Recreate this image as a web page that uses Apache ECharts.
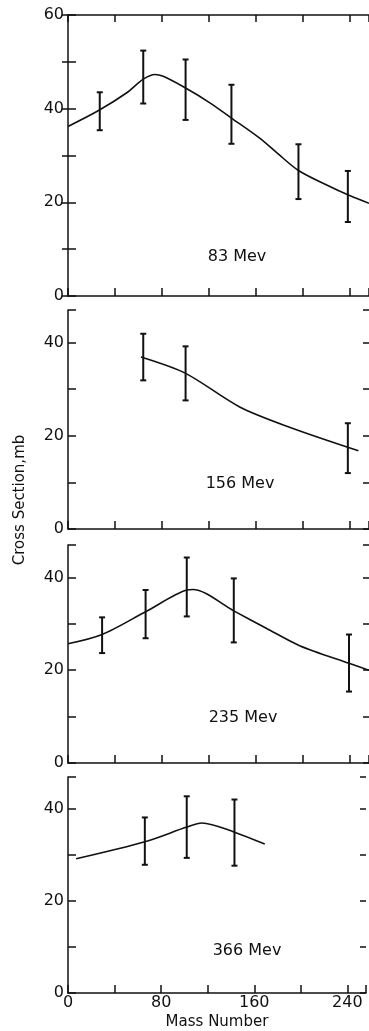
<!DOCTYPE html>
<html>
<head>
<meta charset="utf-8">
<script src="https://cdn.jsdelivr.net/npm/echarts@6/dist/echarts.min.js"></script>
<style>
  html, body { margin: 0; padding: 0; background: #fff; }
  #main { width: 369px; height: 1031px; }
</style>
</head>
<body>
<div id="main"></div>
<script>
// error bars: [mass number, low, high]
const bars83 = [[27, 35.4, 43.5], [64, 41.1, 52.4], [100, 37.6, 50.5], [139, 32.5, 45.1], [196, 20.7, 32.4], [238, 15.8, 26.7]];
const curve83 = [[0, 36.2], [26, 39.6], [50, 43.4], [64, 46.3], [74, 47.3], [81, 46.9], [100, 44.4], [121, 41.2], [139, 38.0], [163, 33.7], [178, 30.5], [196, 26.8], [220, 23.7], [239, 21.5], [256, 19.8]];

const bars156 = [[64, 31.9, 41.9], [100, 27.6, 39.2], [238, 12.0, 22.7]];
const curve156 = [[62, 36.9], [100, 33.4], [146, 26.2], [189, 21.8], [247, 16.8]];

const bars235 = [[29, 23.7, 31.4], [66, 26.9, 37.3], [101, 31.6, 44.3], [141, 26.0, 39.8], [239, 15.4, 27.7]];
const curve235 = [[0, 25.7], [29, 27.7], [66, 32.6], [101, 37.3], [106, 37.4], [141, 32.8], [169, 29.0], [197, 25.3], [239, 21.5], [256, 20.0]];

const bars366 = [[66, 27.9, 38.2], [102, 29.4, 42.8], [143, 27.7, 42.1]];
const curve366 = [[7, 29.2], [66, 32.9], [102, 36.1], [115, 37.0], [143, 35.0], [169, 32.4]];

const energies = ['83 Mev', '156 Mev', '235 Mev', '366 Mev'];
const yMaxes = [60, 47, 47, 47];
const xTickLabels = [0, 80, 160, 240];

const panels = [
  { bars: bars83, curve: curve83 },
  { bars: bars156, curve: curve156 },
  { bars: bars235, curve: curve235 },
  { bars: bars366, curve: curve366 }
];

const ink = '#111';
const font = 'DejaVu Sans';

const gridPos = [
  { top: 15, height: 281 },
  { top: 310, height: 219 },
  { top: 545, height: 218 },
  { top: 777, height: 220 }
];
const labelPos = [[237, 257], [240, 484], [243, 718], [247, 951]];

var myChart = echarts.init(document.getElementById('main'));

const grid = [], xAxis = [], yAxis = [], series = [], graphic = [];

panels.forEach((p, i) => {
  grid.push({ left: 68, right: 0, top: gridPos[i].top, height: gridPos[i].height });
  const last = i === panels.length - 1;
  xAxis.push({
    type: 'value', gridIndex: i, min: 0, max: 256, interval: 40,
    splitLine: { show: false },
    axisLine: { show: true, onZero: false, lineStyle: { color: ink, width: 1.5 } },
    axisTick: { show: true, inside: true, length: 8, lineStyle: { color: ink, width: 1.5 } },
    axisLabel: {
      show: last, margin: 2, color: ink, fontFamily: font, fontSize: 16,
      formatter: v => (xTickLabels.indexOf(v) >= 0 ? String(v) : '')
    },
    name: last ? 'Mass Number' : '', nameLocation: 'middle', nameGap: 22,
    nameTextStyle: { color: ink, fontFamily: font, fontSize: 15 }
  });
  yAxis.push({
    type: 'value', gridIndex: i, min: 0, max: yMaxes[i], interval: 10,
    splitLine: { show: false },
    axisLine: { show: true, lineStyle: { color: ink, width: 1.5 } },
    axisTick: { show: true, inside: true, length: 8, lineStyle: { color: ink, width: 1.5 } },
    axisLabel: {
      margin: 4, color: ink, fontFamily: font, fontSize: 16,
      formatter: v => (v % 20 === 0 ? String(v) : '')
    }
  });
  // right-hand ticks
  yAxis.push({
    type: 'value', gridIndex: i, position: 'right', min: 0, max: yMaxes[i], interval: 10,
    splitLine: { show: false },
    axisLine: { show: false },
    axisTick: { show: true, inside: true, length: 6, lineStyle: { color: ink, width: 1.5 } },
    axisLabel: { show: false }
  });
  series.push({
    type: 'line', xAxisIndex: i, yAxisIndex: i * 2, data: p.curve,
    smooth: 0.3, showSymbol: false, silent: true,
    lineStyle: { color: ink, width: 1.6 }
  });
  series.push({
    type: 'custom', xAxisIndex: i, yAxisIndex: i * 2, data: p.bars,
    renderItem: (params, api) => {
      const x = api.value(0);
      const top = api.coord([x, api.value(2)]);
      const bot = api.coord([x, api.value(1)]);
      const st = { stroke: ink, lineWidth: 2 };
      return {
        type: 'group',
        children: [
          { type: 'line', shape: { x1: top[0], y1: top[1], x2: bot[0], y2: bot[1] }, style: st },
          { type: 'line', shape: { x1: top[0] - 3, y1: top[1], x2: top[0] + 3, y2: top[1] }, style: st },
          { type: 'line', shape: { x1: bot[0] - 3, y1: bot[1], x2: bot[0] + 3, y2: bot[1] }, style: st }
        ]
      };
    }
  });
  graphic.push({
    type: 'text', x: labelPos[i][0], y: labelPos[i][1],
    style: { text: energies[i], fill: ink, font: '16px ' + font, textAlign: 'center', textVerticalAlign: 'middle' }
  });
});

// top frame of the first panel
xAxis.push({
  type: 'value', gridIndex: 0, position: 'top', min: 0, max: 256, interval: 40,
  splitLine: { show: false },
  axisLine: { show: true, onZero: false, lineStyle: { color: ink, width: 1.5 } },
  axisTick: { show: true, inside: true, length: 7, lineStyle: { color: ink, width: 1.5 } },
  axisLabel: { show: false }
});

graphic.push({
  type: 'text', x: 20, y: 500, rotation: Math.PI / 2,
  style: { text: 'Cross Section,mb', fill: ink, font: '15px ' + font, textAlign: 'center', textVerticalAlign: 'middle' }
});

var option = {
  backgroundColor: '#fff',
  animation: false,
  grid: grid,
  xAxis: xAxis,
  yAxis: yAxis,
  series: series,
  graphic: graphic
};

myChart.setOption(option);
</script>
</body>
</html>
